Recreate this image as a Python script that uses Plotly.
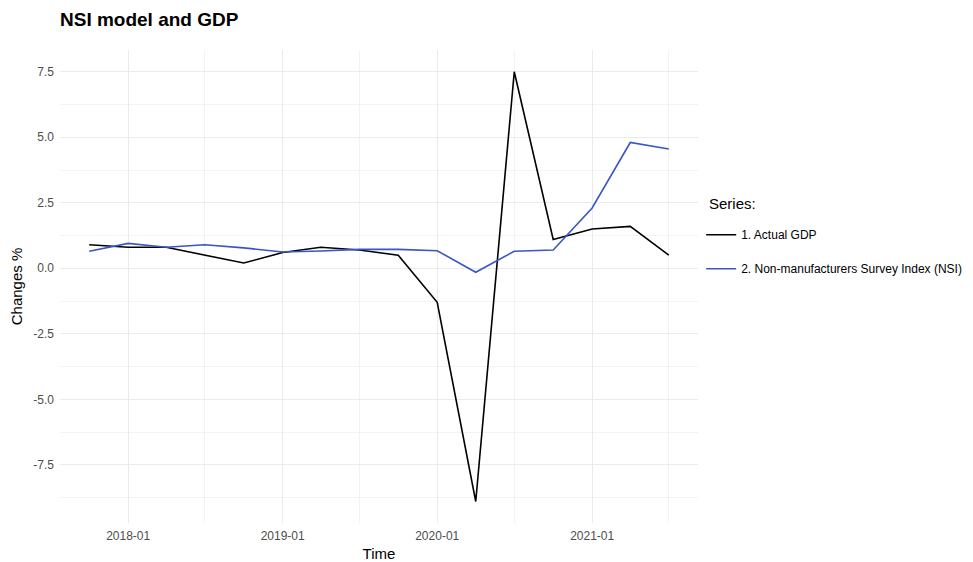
import plotly.graph_objects as go

dates = ["2017-10-01", "2018-01-01", "2018-04-01", "2018-07-01", "2018-10-01",
         "2019-01-01", "2019-04-01", "2019-07-01", "2019-10-01", "2020-01-01",
         "2020-04-01", "2020-07-01", "2020-10-01", "2021-01-01", "2021-04-01",
         "2021-07-01"]
gdp = [0.9, 0.8, 0.8, 0.5, 0.2, 0.6, 0.8, 0.7, 0.5, -1.3, -8.9, 7.5, 1.1, 1.5, 1.6, 0.5]
nsi = [0.65, 0.95, 0.8, 0.9, 0.78, 0.62, 0.66, 0.72, 0.72, 0.67, -0.15, 0.65, 0.7, 2.3, 4.8, 4.55]

tick_vals = ["2018-01-01", "2019-01-01", "2020-01-01", "2021-01-01"]
tick_text = ["2018-01", "2019-01", "2020-01", "2021-01"]
y_ticks = [-7.5, -5.0, -2.5, 0.0, 2.5, 5.0, 7.5]
y_tick_text = ["-7.5", "-5.0", "-2.5", "0.0", "2.5", "5.0", "7.5"]

FONT = "Liberation Sans, Arial, sans-serif"

fig = go.Figure()
fig.add_trace(go.Scatter(x=dates, y=gdp, mode="lines", name="1. Actual GDP",
                         line=dict(color="#000000", width=1.6), legendgroup="a"))
fig.add_trace(go.Scatter(x=dates, y=nsi, mode="lines",
                         name="2. Non-manufacturers Survey Index (NSI)",
                         line=dict(color="#3A56C4", width=1.6), legendgroup="b"))

# page body has an 8px margin, so the figure is 8px smaller and offset
fig.update_layout(
    width=965, height=554,
    margin=dict(l=52, r=275, t=42, b=39, autoexpand=False),
    paper_bgcolor="white", plot_bgcolor="white",
    font=dict(family=FONT, color="#000000"),
    title=dict(text="<b>NSI model and GDP</b>", x=0, xref="paper", xanchor="left",
               y=0.979, yanchor="middle", font=dict(size=19, color="#000000")),
    legend=dict(x=1.005, xanchor="left", y=0.64, yanchor="top",
                font=dict(size=12, color="#000000"), tracegroupgap=15,
                bgcolor="rgba(0,0,0,0)"),
    showlegend=True,
    annotations=[dict(text="Series:", xref="paper", yref="paper",
                      x=1.014, xanchor="left", y=0.6765, yanchor="middle",
                      showarrow=False, font=dict(size=15, color="#000000"))],
)
fig.update_xaxes(
    range=["2017-07-24", "2021-09-08"], type="date", automargin=False,
    tickvals=tick_vals, ticktext=tick_text, ticklabelstandoff=4,
    tickfont=dict(size=12, color="#4D4D4D"),
    showgrid=True, gridcolor="#EBEBEB", gridwidth=1.2,
    minor=dict(tickvals=["2017-07-01", "2018-07-01", "2019-07-01", "2020-07-01", "2021-07-01"],
               showgrid=True, gridcolor="#F3F3F3", gridwidth=0.8),
    zeroline=False, showline=False, ticks="",
    title=dict(text="Time", font=dict(size=15, color="#000000"), standoff=6),
)
fig.update_yaxes(
    range=[-9.72, 8.33], automargin=False,
    tickvals=y_ticks, ticktext=y_tick_text, ticklabelstandoff=5,
    tickfont=dict(size=12, color="#4D4D4D"),
    showgrid=True, gridcolor="#EBEBEB", gridwidth=1.2,
    minor=dict(tickvals=[-8.75, -6.25, -3.75, -1.25, 1.25, 3.75, 6.25],
               showgrid=True, gridcolor="#F3F3F3", gridwidth=0.8),
    zeroline=False, showline=False, ticks="",
    title=dict(text="Changes %", font=dict(size=15, color="#000000"), standoff=8),
)

fig.write_html("out.html")
